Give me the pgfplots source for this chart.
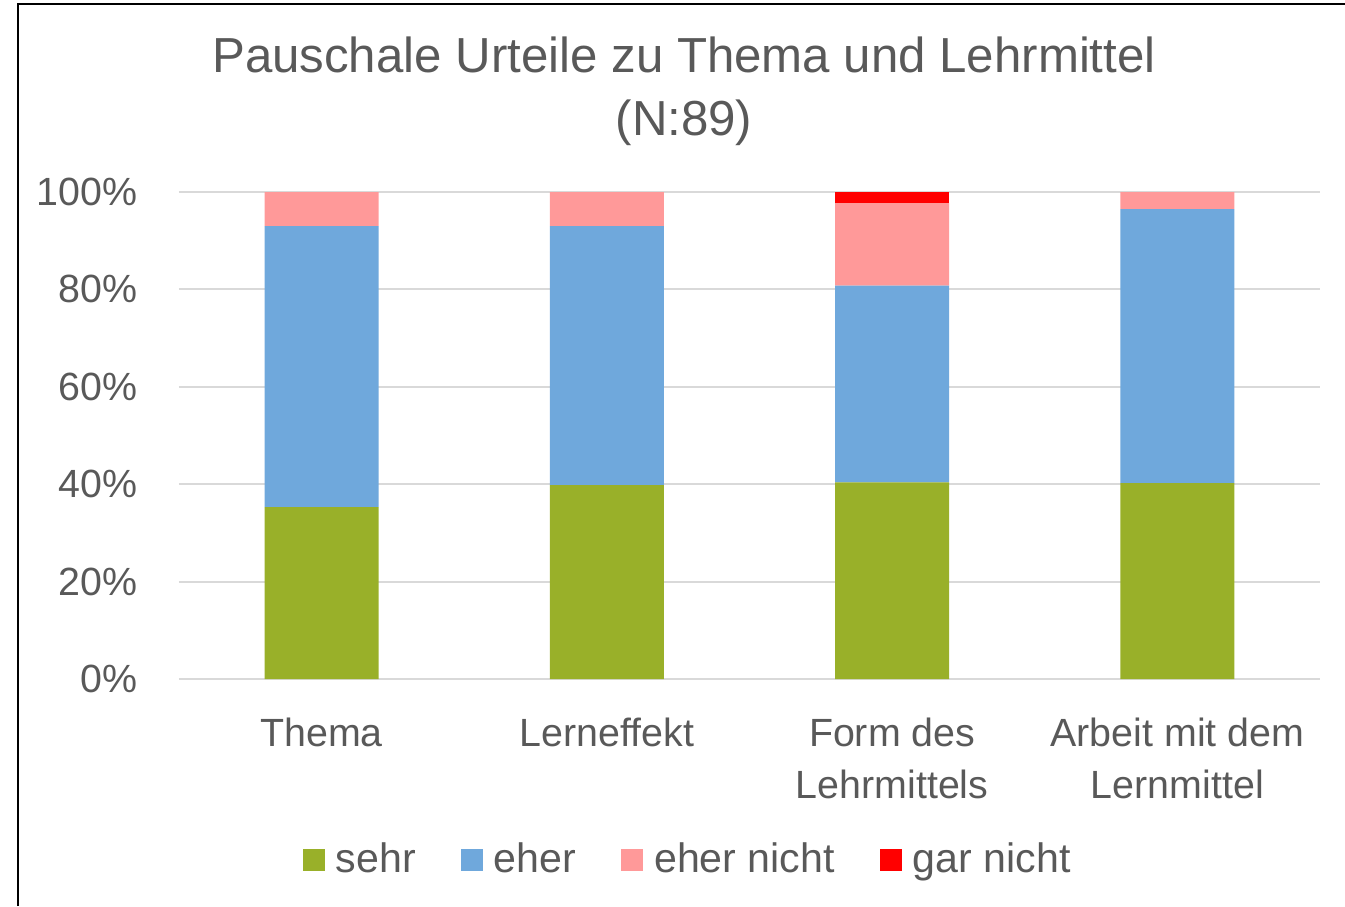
\documentclass[border=0pt]{standalone}
\usepackage{fontspec}
\setmainfont{Liberation Sans}
\usepackage{pgfplots}
\pgfplotsset{compat=1.18}
\definecolor{txt}{HTML}{595959}
\definecolor{gridc}{HTML}{D9D9D9}
\definecolor{cSehr}{RGB}{153,176,41}
\definecolor{cEher}{RGB}{111,168,220}
\definecolor{cEherNicht}{RGB}{255,153,153}
\definecolor{cGarNicht}{RGB}{255,0,0}
\begin{document}
\begin{tikzpicture}
\useasboundingbox (0,0) rectangle (13.45cm,9.06cm);
\draw[black, line width=0.5pt] (0.18cm,0) -- (0.18cm,9.02cm) -- (13.45cm,9.02cm);
\node[txt, align=center, font=\fontsize{14}{17.9}\selectfont] at (6.84cm,8.15cm)
  {Pauschale Urteile zu Thema und Lehrmittel\\(N:89)};
\begin{axis}[
    at={(1.79cm,2.27cm)}, anchor=south west,
    scale only axis,
    width=11.41cm, height=4.87cm,
    ybar stacked,
    bar width=1.14cm,
    xmin=-0.5, xmax=3.5,
    ymin=0, ymax=100,
    xtick=data,
    xticklabels={Thema, Lerneffekt, {Form des\\Lehrmittels}, {Arbeit mit dem\\Lernmittel}},
    ytick={0,20,...,100},
    yticklabel={\pgfmathprintnumber{\tick}\%},
    /pgf/number format/assume math mode=true,
    axis line style={draw=none},
    major tick length=0pt,
    ymajorgrids,
    grid style={gridc, line width=0.6pt},
    tick label style={txt, font=\fontsize{11.2}{14.8}\selectfont},
    yticklabel style={xshift=-0.29cm},
    xticklabel style={align=center, yshift=-0.27cm},
    legend columns=4,
    legend style={at={(0.448,-0.372)}, anchor=center, draw=none, fill=none,
      font=\fontsize{11.7}{13}\selectfont, text=txt,
      /tikz/every odd column/.append style={column sep=0.04cm},
      /tikz/every even column/.append style={column sep=0.38cm}},
    legend image code/.code={\fill[#1] (0cm,-0.11cm) rectangle (0.22cm,0.11cm);},
]
\addplot[fill=cSehr, draw=none] coordinates {(0,35.3) (1,39.8) (2,40.4) (3,40.2)};
\addplot[fill=cEher, draw=none] coordinates {(0,57.7) (1,53.2) (2,40.4) (3,56.3)};
\addplot[fill=cEherNicht, draw=none] coordinates {(0,7.0) (1,7.0) (2,16.9) (3,3.5)};
\addplot[fill=cGarNicht, draw=none] coordinates {(0,0) (1,0) (2,2.3) (3,0)};
\legend{sehr, eher, eher nicht, gar nicht}
\end{axis}
\end{tikzpicture}
\end{document}
